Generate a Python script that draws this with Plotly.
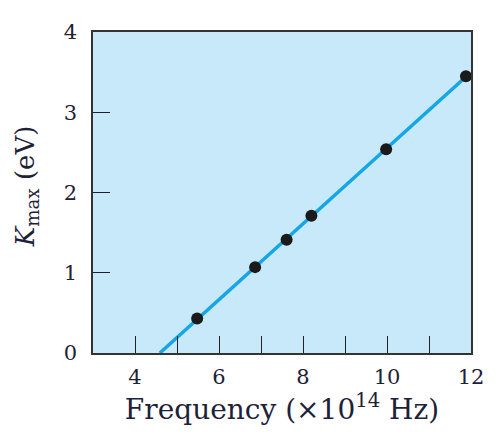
import numpy as np
import plotly.graph_objects as go

# Data
freq = [5.48, 6.86, 7.61, 8.20, 9.98, 11.88]      # x10^14 Hz
kmax = [0.43, 1.07, 1.41, 1.71, 2.54, 3.45]       # eV

x_tickvals = [4, 6, 8, 10, 12]
x_ticktext = ["4", "6", "8", "10", "12"]
x_minorvals = [5, 7, 9, 11]
y_tickvals = [0, 1, 2, 3, 4]
y_ticktext = ["0", "1", "2", "3", "4"]

# Least-squares line through the data, drawn from the x-intercept to the last point
slope, intercept = np.polyfit(freq, kmax, 1)
x0 = -intercept / slope
line_x = [x0, max(freq)]
line_y = [slope * v + intercept for v in line_x]

font_family = "DejaVu Serif"
text_color = "#1e2236"

fig = go.Figure()
fig.add_trace(go.Scatter(x=line_x, y=line_y, mode="lines",
                         line=dict(color="#16a6e6", width=3.5),
                         hoverinfo="skip", showlegend=False))
fig.add_trace(go.Scatter(x=freq, y=kmax, mode="markers",
                         marker=dict(color="#1a1a1a", size=12),
                         cliponaxis=False, showlegend=False))

fig.update_layout(
    width=488, height=424,
    margin=dict(l=85, r=18, t=17, b=79),
    paper_bgcolor="white",
    plot_bgcolor="#c7e9fa",
    font=dict(family=font_family, size=21, color=text_color),
    annotations=[dict(
        text="<i>K</i><sub>max</sub> (eV)", textangle=-90,
        xref="paper", yref="paper", x=-0.177, y=0.52,
        xanchor="center", yanchor="middle", showarrow=False,
        font=dict(size=26, color=text_color, family=font_family),
    )],
)
fig.update_xaxes(
    range=[3, 12], tickvals=x_tickvals, ticktext=x_ticktext,
    ticks="inside", ticklen=17, tickwidth=1.3, tickcolor="#222",
    minor=dict(tickvals=x_minorvals, ticks="inside", ticklen=17, tickwidth=1.3, tickcolor="#222"),
    showgrid=False, zeroline=False,
    showline=True, mirror=True, linecolor="#333", linewidth=1.6,
    tickfont=dict(size=21), ticklabelstandoff=4,
    title=dict(text="Frequency (×10<sup>14</sup> Hz)", font=dict(size=28), standoff=6),
)
fig.update_yaxes(
    range=[0, 4], tickvals=y_tickvals, ticktext=y_ticktext,
    ticks="inside", ticklen=17, tickwidth=1.3, tickcolor="#222",
    showgrid=False, zeroline=False,
    showline=True, mirror=True, linecolor="#333", linewidth=1.6,
    tickfont=dict(size=21), ticklabelstandoff=10,
)

fig.write_html("out.html")
